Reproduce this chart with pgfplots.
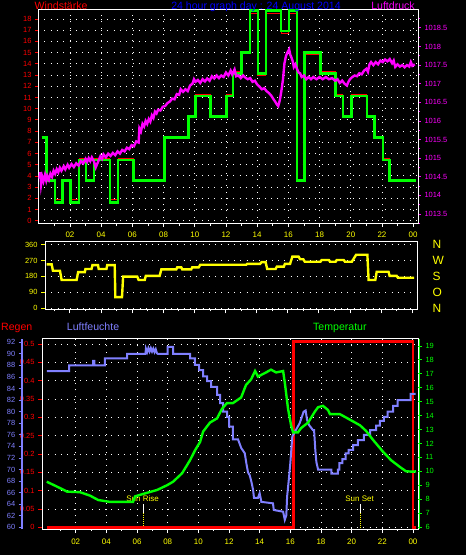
\documentclass[border=0pt]{standalone}
\usepackage{pgfplots}
\pgfplotsset{compat=1.18}
\usepackage{fontspec}
\setmainfont{Liberation Sans}
\definecolor{wgreen}{RGB}{0,255,0}
\definecolor{wred}{RGB}{255,0,0}
\definecolor{wmag}{RGB}{255,0,255}
\definecolor{wyel}{RGB}{255,255,0}
\definecolor{wblue}{RGB}{0,0,255}
\definecolor{whum}{RGB}{128,128,255}
\newcommand{\tf}{\fontsize{7.5}{8}\selectfont}
\newcommand{\xf}{\fontsize{8}{9}\selectfont}
\newcommand{\hf}{\fontsize{10.6}{12}\selectfont}
\pgfplotsset{
  base/.style={
    scale only axis, anchor=south west,
    axis line style={white, line width=1bp},
    tick align=outside,
    major tick length=3bp, minor tick length=2bp,
    every tick/.append style={line width=0.8bp},
    tick label style={font=\tf},
    xticklabel style={font=\xf, text=wyel, yshift=-1.5bp},
    x tick style={white},
    major grid style={white, line width=0.9bp, dash pattern=on 0.9bp off 5.4bp},
    scaled ticks=false,
  },
  over/.style={
    scale only axis, anchor=south west,
    axis x line=none, axis y line*=right,
    tick align=outside,
    major tick length=3bp, minor tick length=2bp,
    every tick/.append style={line width=0.8bp},
    tick label style={font=\tf},
    scaled ticks=false,
  },
}
\begin{document}
\begin{tikzpicture}
\fill[black] (0,0) rectangle (466bp,555bp);

% ---------------- top panel: wind speed ----------------
\begin{axis}[base, at={(38bp,331bp)}, width=380bp, height=214bp,
  xmin=-0.05, xmax=24.31, ymin=-0.29, ymax=18.80,
  tick pos=left,
  xtick={2,4,...,24}, xticklabels={02,04,06,08,10,12,14,16,18,20,22,00},
  minor xtick={1,3,...,23},
  ytick={0,1,2,3,4,5,6,7,8,9,10,11,12,13,14,15,16,17,18},
  yticklabels={0,1,2,3,4,5,6,7,8,9,10,11,12,13,14,15,16,17,18},
  y tick style={wred}, yticklabel style={text=wred},
  xmajorgrids, ymajorgrids]
\addplot[wred, line width=1bp, const plot] coordinates {
(0.19,7.55) (0.51,5.5) (0.56,3.72) (1.04,2.7) (1.10,1.9) (1.53,3.72) (2.04,1.9)
(2.58,5.55) (3.03,3.72) (3.54,5.55) (4.56,1.9) (5.08,5.55) (6.06,3.72) (8.04,7.55)
(9.58,9.4) (10.06,11.25) (11.02,9.4) (12.04,11.25) (12.45,13.27) (12.98,14.94)
(13.54,18.5) (14.05,13.0) (14.56,18.5) (15.53,16.72) (16.04,18.5) (16.55,3.72)
(17.04,14.85) (18.04,13.27) (19.03,11.25) (19.5,9.4) (20.03,11.25) (21.04,9.4)
(21.53,7.55) (22.06,5.55) (22.49,4.5) (22.55,3.72) (24.16,3.72)};
\addplot[wgreen, line width=2.8bp, const plot] coordinates {
(0.19,7.41) (0.51,3.57) (1.04,1.64) (1.53,3.57) (2.04,1.64) (2.58,5.42) (3.03,3.57)
(3.54,5.42) (4.56,1.64) (5.08,5.42) (6.06,3.57) (8.04,7.41) (9.58,9.28) (10.06,11.13)
(11.02,9.28) (12.04,11.13) (12.45,13.15) (12.98,15.03) (13.54,18.75) (14.05,13.15)
(14.56,18.75) (15.53,16.93) (16.04,18.75) (16.55,3.57) (17.04,15.03) (18.04,13.15)
(19.03,11.13) (19.5,9.28) (20.03,11.13) (21.04,9.28) (21.53,7.41) (22.06,5.42)
(22.49,3.57) (24.16,3.57)};
\end{axis}

% ---------------- top panel: pressure ----------------
\begin{axis}[over, at={(38bp,331bp)}, width=380bp, height=214bp,
  xmin=-0.05, xmax=24.31, ymin=1013.23, ymax=1018.98,
  y axis line style={white, line width=1bp, -},
  ytick={1013.5,1014,1014.5,1015,1015.5,1016,1016.5,1017,1017.5,1018,1018.5},
  yticklabels={1013.5,1014,1014.5,1015,1015.5,1016,1016.5,1017,1017.5,1018,1018.5},
  minor ytick={1013.25,1013.75,1014.25,1014.75,1015.25,1015.75,1016.25,1016.75,1017.25,1017.75,1018.25,1018.75},
  y tick style={wmag}, yticklabel style={text=wmag}]
\addplot[wmag, line width=2.4bp] coordinates {
(0.05,1014.45) (0.10,1014.62) (0.15,1014.30) (0.22,1014.50) (0.30,1014.38) (0.40,1014.55)
(0.48,1014.40) (0.55,1014.52) (0.65,1014.42) (0.75,1014.58) (0.85,1014.50) (0.95,1014.66)
(1.05,1014.58) (1.15,1014.70) (1.25,1014.62) (1.35,1014.74) (1.45,1014.66) (1.60,1014.78)
(1.70,1014.70) (1.85,1014.82) (1.95,1014.74) (2.10,1014.84) (2.25,1014.76) (2.40,1014.86)
(2.55,1014.80) (2.70,1014.92) (2.85,1014.86) (3.00,1014.98) (3.10,1014.90) (3.20,1015.00)
(3.30,1014.92) (3.40,1015.02) (3.55,1014.90) (3.65,1014.75) (3.75,1014.85) (3.85,1014.95)
(3.95,1015.05) (4.05,1014.98) (4.15,1015.10) (4.30,1015.02) (4.45,1015.12) (4.60,1015.06)
(4.75,1015.14) (4.90,1015.08) (5.05,1015.18) (5.20,1015.12) (5.35,1015.22) (5.50,1015.18)
(5.65,1015.28) (5.80,1015.24) (5.95,1015.35) (6.10,1015.32) (6.25,1015.45) (6.40,1015.42)
(6.45,1015.80) (6.55,1015.72) (6.65,1015.92) (6.75,1015.85) (6.85,1016.00) (6.95,1015.92)
(7.05,1016.05) (7.15,1015.98) (7.25,1016.15) (7.35,1016.08) (7.45,1016.25) (7.55,1016.20)
(7.65,1016.30) (7.80,1016.28) (7.95,1016.38) (8.10,1016.40) (8.25,1016.48) (8.40,1016.52)
(8.55,1016.60) (8.70,1016.58) (8.85,1016.72) (9.00,1016.70) (9.10,1016.85) (9.25,1016.78)
(9.40,1016.85) (9.55,1016.80) (9.70,1016.95) (9.85,1017.00) (9.95,1017.12) (10.05,1017.05)
(10.20,1017.10) (10.35,1017.02) (10.50,1017.12) (10.65,1017.06) (10.80,1017.14) (10.95,1017.08)
(11.10,1017.20) (11.25,1017.14) (11.40,1017.22) (11.55,1017.15) (11.70,1017.22) (11.85,1017.18)
(12.00,1017.30) (12.15,1017.22) (12.30,1017.35) (12.40,1017.25) (12.55,1017.38) (12.65,1017.20)
(12.80,1017.22) (12.95,1017.15) (13.10,1017.22) (13.25,1017.16) (13.40,1017.12) (13.55,1017.15)
(13.70,1017.05) (13.85,1017.08) (14.00,1016.98) (14.15,1016.92) (14.30,1016.85) (14.45,1016.88)
(14.60,1016.80) (14.75,1016.75) (14.90,1016.68) (15.05,1016.58) (15.15,1016.52) (15.25,1016.45)
(15.35,1016.40) (15.45,1016.55) (15.55,1016.80) (15.65,1017.10) (15.75,1017.55) (15.85,1017.75)
(15.95,1017.85) (16.05,1017.92) (16.12,1017.78) (16.20,1017.70) (16.28,1017.60) (16.35,1017.45)
(16.45,1017.52) (16.55,1017.40) (16.65,1017.30) (16.75,1017.28) (16.85,1017.18) (17.00,1017.22)
(17.15,1017.12) (17.30,1017.18) (17.45,1017.12) (17.60,1017.18) (17.80,1017.12) (18.00,1017.18)
(18.20,1017.12) (18.40,1017.18) (18.60,1017.12) (18.80,1017.15) (19.00,1017.08) (19.15,1017.12)
(19.30,1017.02) (19.45,1017.08) (19.60,1017.00) (19.75,1016.95) (19.85,1017.05) (19.95,1017.12)
(20.10,1017.18) (20.25,1017.22) (20.40,1017.20) (20.55,1017.28) (20.70,1017.25) (20.85,1017.35)
(21.00,1017.40) (21.10,1017.32) (21.20,1017.52) (21.30,1017.58) (21.45,1017.50) (21.60,1017.58)
(21.75,1017.52) (21.90,1017.62) (22.05,1017.58) (22.20,1017.65) (22.35,1017.60) (22.50,1017.66)
(22.65,1017.55) (22.75,1017.62) (22.85,1017.45) (23.00,1017.52) (23.15,1017.46) (23.30,1017.50)
(23.45,1017.44) (23.60,1017.50) (23.75,1017.46) (23.85,1017.58) (23.95,1017.48) (24.10,1017.52)};
\end{axis}

% ---------------- middle panel: wind direction ----------------
\begin{axis}[base, at={(45bp,245.7bp)}, width=372bp, height=68bp,
  xmin=0.4, xmax=24.31, ymin=-7.4, ymax=379.3,
  tick pos=left, major tick length=4bp,
  xtick={2,4,...,24}, xticklabels={}, minor xtick={1,3,...,23},
  ytick={0,90,180,270,360}, yticklabels={0,90,180,270,360},
  y tick style={wyel}, yticklabel style={text=wyel},
  ymajorgrids]
\addplot[wyel, line width=2.4bp] coordinates {
(0.51,248) (0.83,248) (0.91,212) (1.36,212) (1.47,159) (2.43,159) (2.53,204) (2.96,204)
(3.0,222) (3.39,222) (3.45,244) (3.81,244) (3.85,222) (4.35,222) (4.4,244) (4.88,244)
(4.92,62) (5.35,62) (5.42,178) (6.33,178) (6.42,159) (6.81,159) (6.88,183) (7.77,183)
(7.88,220) (8.84,220) (8.9,231) (9.16,231) (9.22,220) (9.8,220) (9.86,231) (10.28,231)
(10.38,246) (13.33,246) (13.4,251) (14.23,251) (14.32,261) (14.58,261) (14.68,222)
(15.22,222) (15.3,235) (15.75,235) (15.82,251) (16.15,251) (16.3,292) (16.7,292)
(16.8,277) (17.0,277) (17.1,263) (18.1,263) (18.18,273) (18.65,273) (18.72,263)
(19.08,263) (19.15,273) (19.6,273) (19.68,263) (20.12,263) (20.4,303) (21.12,303)
(21.2,159) (21.63,159) (21.72,206) (22.48,206) (22.55,183) (23.0,183) (23.08,172) (24.12,172)};
\end{axis}
\begin{axis}[over, at={(45bp,245.7bp)}, width=372bp, height=68bp,
  xmin=0.4, xmax=24.31, ymin=-7.4, ymax=379.3,
  y axis line style={draw=none},
  major tick length=0pt,
  ytick={0,90,180,270,360}, yticklabels={N,O,S,W,N},
  yticklabel style={text=wyel, font=\fontsize{12}{12}\selectfont, xshift=12bp}]
\addplot[draw=none] coordinates {(1,0)};
\end{axis}

% ---------------- bottom panel: rain ----------------
\begin{axis}[base, at={(42bp,26bp)}, width=376bp, height=190bp,
  xmin=-0.2, xmax=24.33, ymin=-0.0046, ymax=0.5136,
  tick pos=left, major tick length=4bp,
  xticklabel style={yshift=-0.5bp},
  xtick={2,4,...,24}, xticklabels={02,04,06,08,10,12,14,16,18,20,22,00},
  minor xtick={1,3,...,23},
  ytick={0,0.05,0.1,0.15,0.2,0.25,0.3,0.35,0.4,0.45,0.5},
  yticklabels={0,0.05,0.1,0.15,0.2,0.25,0.3,0.35,0.4,0.45,0.5},
  y tick style={wred}, yticklabel style={text=wred},
  xmajorgrids, ymajorgrids]
\draw[white, line width=1bp] (axis cs:6.41,0.0635) -- (axis cs:6.41,0.039);
\draw[wyel, line width=0.8bp, dash pattern=on 0.8bp off 1.2bp] (axis cs:6.41,0.039) -- (axis cs:6.41,0);
\draw[white, line width=1bp] (axis cs:20.57,0.0635) -- (axis cs:20.57,0.039);
\draw[wyel, line width=0.8bp, dash pattern=on 0.8bp off 1.2bp] (axis cs:20.57,0.039) -- (axis cs:20.57,0);
\node[anchor=base, inner sep=0, text=wyel, font=\fontsize{8}{9}\selectfont] at (axis cs:6.36,0.0717) {Sun Rise};
\node[anchor=base, inner sep=0, text=wyel, font=\fontsize{8}{9}\selectfont] at (axis cs:20.52,0.0717) {Sun Set};
\addplot[wred, line width=2.8bp] coordinates {
(0.11,0) (16.2,0) (16.2,0.506) (24.0,0.506) (24.0,0) (24.2,0)};
\end{axis}

% humidity data
\begin{axis}[scale only axis, anchor=south west, at={(42bp,26bp)}, width=376bp, height=190bp,
  xmin=-0.2, xmax=24.33, ymin=59.71, ymax=92.57, hide axis]
\addplot[whum, line width=2bp] coordinates {
(0.11,87) (1.57,87) (1.57,88) (3.13,88) (3.13,88.8) (3.22,88.8) (3.22,88) (3.91,88)
(3.91,89.2) (5.35,89.2) (5.35,90) (6.55,90) (6.58,90.9) (6.66,90.3) (6.74,91) (6.82,90.4)
(6.9,91) (6.98,90.4) (7.06,90.9) (7.14,90.3) (7.22,90.8) (7.3,90.1) (7.35,90) (8.0,90)
(8.0,91.2) (8.35,91.2) (8.35,90) (9.46,90) (9.46,89.2) (9.78,89.2) (9.78,88.1) (10.05,88.1)
(10.05,87.2) (10.31,87.2) (10.31,86.1) (10.57,86.1) (10.57,85.3) (10.83,85.3) (10.83,84.3)
(11.22,84.3) (11.22,82.9) (11.42,82.9) (11.42,81.5) (11.61,81.5) (11.61,80) (11.87,80)
(11.87,79.1) (12.0,79.1) (12.0,77.4) (12.26,77.4) (12.26,75.2) (12.59,75.2) (12.8,73.7)
(13.03,72.8) (13.13,71.1) (13.24,69.5) (13.35,69.0) (13.46,67.9) (13.57,66.5) (13.63,65.1)
(13.89,65.1) (14.0,65.9) (14.11,64.4) (14.87,64.15) (14.92,63) (15.53,62.7) (15.64,61.3)
(15.74,62.1) (15.79,65.3) (15.9,68.2) (16.0,71.1) (16.13,75.7) (16.29,76.5) (16.61,78.0)
(16.87,80) (17.0,80.2) (17.09,78.6) (17.22,77.7) (17.48,76.8) (17.55,76.8) (17.63,73.4)
(17.7,71.3) (17.81,70) (18.68,70) (18.68,69.3) (19.11,69.3) (19.11,70) (19.2,70)
(19.2,71.1) (19.4,71.1) (19.4,71.8) (19.6,71.8) (19.6,72.8) (19.8,72.8) (19.8,73.4)
(20.1,73.4) (20.1,74.2) (20.4,74.2) (20.4,75.1) (20.8,75.1) (20.8,76) (21.2,76) (21.2,76.8)
(21.6,76.8) (21.6,77.6) (21.85,77.6) (21.85,78.4) (22.1,78.4) (22.1,79.1) (22.35,79.1)
(22.35,80) (22.7,80) (22.7,81) (23.0,81) (23.0,82) (23.85,82) (23.85,83.1) (24.18,83.1)};
\end{axis}

% humidity scale
\begin{axis}[scale only axis, anchor=south west, at={(21.7bp,26bp)}, width=1bp, height=190bp,
  xmin=0, xmax=1, ymin=59.71, ymax=92.57,
  axis x line=none, axis y line*=left,
  y axis line style={whum, line width=1.6bp, -},
  tick align=outside, major tick length=3bp,
  ytick={60,62,64,66,68,70,72,74,76,78,80,82,84,86,88,90,92},
  yticklabels={60,62,64,66,68,70,72,74,76,78,80,82,84,86,88,90,92},
  y tick style={whum, line width=0.8bp},
  yticklabel style={text=whum, font=\tf}]
\addplot[draw=none] coordinates {(0.5,70)};
\end{axis}

% temperature
\begin{axis}[over, at={(42bp,26bp)}, width=376bp, height=190bp,
  xmin=-0.2, xmax=24.33, ymin=5.856, ymax=19.50,
  y axis line style={wgreen, line width=1bp, -, xshift=1.2bp},
  major tick length=4bp,
  ytick={6,7,8,9,10,11,12,13,14,15,16,17,18,19},
  yticklabels={6,7,8,9,10,11,12,13,14,15,16,17,18,19},
  y tick style={wgreen}, yticklabel style={text=wgreen}]
\addplot[wgreen, line width=2.4bp] coordinates {
(0.11,9.25) (0.78,8.9) (1.44,8.54) (2.28,8.5) (2.94,8.25) (3.46,7.94) (4.24,7.8) (5.74,7.8)
(5.87,8.2) (6.39,8.37) (7.31,8.66) (7.96,9.0) (8.35,9.25) (8.94,9.86) (9.46,10.8) (9.78,11.5)
(10.11,12.1) (10.31,12.85) (10.76,13.5) (11.22,13.8) (11.55,14.5) (11.87,14.9) (12.26,14.9)
(12.79,15.3) (13.11,16.2) (13.44,16.6) (13.70,17.2) (13.89,16.8) (14.42,17.1) (14.74,17.3)
(15.07,17.1) (15.53,17.2) (15.66,16.2) (15.85,14.5) (16.05,13.3) (16.18,12.8) (16.50,12.8)
(16.70,13.1) (17.16,13.5) (17.61,14.3) (17.81,14.6) (18.13,14.7) (18.46,14.4) (18.59,14.1)
(19.24,14.1) (19.90,13.7) (20.55,13.3) (20.94,12.9) (21.40,12.25) (22.05,11.4) (22.57,10.8)
(23.16,10.3) (23.55,10.0) (24.0,9.97) (24.2,10.0)};
\end{axis}

% titles
\node[anchor=base west, inner sep=0, text=wred, font=\hf] at (34.5bp,545.7bp) {Windstärke};
\node[anchor=base, inner sep=0, text=wblue, font=\hf] at (256bp,545.7bp) {24 hour graph day : 24 August 2014};
\node[anchor=base, inner sep=0, text=wmag, font=\hf] at (393bp,545.7bp) {Luftdruck};
\node[anchor=base west, inner sep=0, text=wred, font=\hf] at (1bp,224.5bp) {Regen};
\node[anchor=base west, inner sep=0, text=whum, font=\hf] at (66.7bp,224.5bp) {Luftfeuchte};
\node[anchor=base west, inner sep=0, text=wgreen, font=\hf] at (313bp,224.7bp) {Temperatur};

\pgfresetboundingbox
\useasboundingbox (0,0) rectangle (466bp,555bp);
\end{tikzpicture}
\end{document}
